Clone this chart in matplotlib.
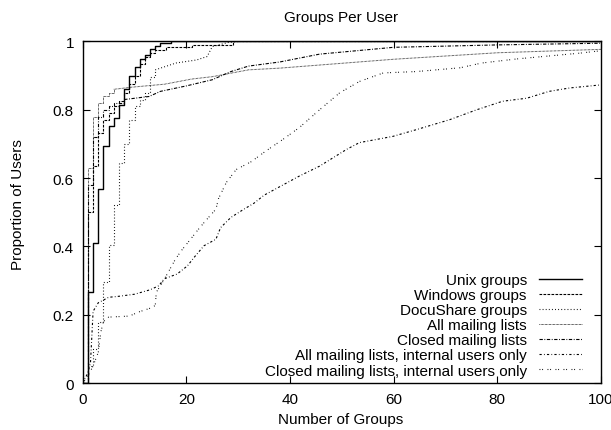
import matplotlib
matplotlib.use("Agg")
import matplotlib.pyplot as plt

plt.rcParams["font.family"] = ["Liberation Sans", "DejaVu Sans"]

# CDF of groups per user.
# Each series: x, y, and the index up to which it is drawn as steps
unix_x = [0, 1, 2, 3, 4, 5, 6, 7, 8, 9, 10, 11, 12, 13, 14, 15, 17, 100]
unix_y = [0, 0.267, 0.41, 0.567, 0.693, 0.752, 0.775, 0.815, 0.86, 0.90,
          0.925, 0.948, 0.959, 0.977, 0.988, 0.997, 1.0, 1.0]

win_x = [0, 1, 2, 3, 4, 5, 6, 7, 8, 9, 10, 11, 12, 13, 14, 16, 21, 29, 100]
win_y = [0, 0.50, 0.635, 0.732, 0.77, 0.79, 0.81, 0.825, 0.85, 0.875,
         0.90, 0.935, 0.955, 0.967, 0.976, 0.985, 0.99, 1.0, 1.0]

docu_x = [0, 1, 2, 3, 4, 5, 6, 7, 8, 9, 10, 11, 12, 13, 14,
          18, 22, 24, 25, 28, 30, 100]
docu_y = [0, 0.05, 0.10, 0.18, 0.296, 0.405, 0.52, 0.645, 0.70, 0.77, 0.81,
          0.83, 0.85, 0.897, 0.917, 0.937, 0.946, 0.956, 0.985, 0.997, 1.0, 1.0]

allml_x = [0, 1, 2, 3, 4, 5, 6, 9.3, 15.8, 21, 25, 32, 38, 60, 80, 100]
allml_y = [0, 0.63, 0.78, 0.82, 0.84, 0.85, 0.86, 0.866, 0.875, 0.89,
           0.897, 0.917, 0.922, 0.948, 0.967, 0.977]

closed_x = [0, 1, 2, 3, 4, 5, 6, 8, 12.8, 15, 20, 25, 28.6, 32, 38, 45.7,
            60, 80, 100]
closed_y = [0, 0.58, 0.72, 0.78, 0.80, 0.81, 0.82, 0.83, 0.839, 0.854, 0.87,
            0.888, 0.912, 0.928, 0.94, 0.963, 0.983, 0.99, 0.995]

allint_x = [0, 1, 1.5, 2, 3, 5, 7, 10, 13, 14.7, 15.7, 18.2, 20.2, 21.5,
            23.4, 25.7, 26.6, 28.6, 31.1, 33, 35, 41.8, 45.7, 50.9, 53.4,
            59.8, 64.4, 70.8, 76, 81, 85.7, 90, 94, 100]
allint_y = [0, 0.03, 0.06, 0.21, 0.235, 0.251, 0.254, 0.26, 0.273, 0.285,
            0.305, 0.319, 0.343, 0.368, 0.402, 0.421, 0.455, 0.485, 0.509,
            0.526, 0.55, 0.606, 0.635, 0.684, 0.704, 0.722, 0.742, 0.771,
            0.80, 0.825, 0.834, 0.854, 0.864, 0.873]

clint_x = [0, 1, 2, 3, 3.5, 4, 5, 9, 10.8, 13, 14, 14.2, 15, 16.3, 17.9, 19,
           20.8, 22.1, 23.7, 25.7, 26.2, 27.7, 29.6, 32.5, 35.4, 38.6, 41.8,
           45.7, 49.6, 53.4, 58, 64.4, 72.8, 77, 83.8, 96, 100]
clint_y = [0, 0.02, 0.05, 0.09, 0.15, 0.18, 0.193, 0.196, 0.208, 0.219,
           0.227, 0.266, 0.285, 0.319, 0.363, 0.387, 0.421, 0.446, 0.475,
           0.509, 0.54, 0.587, 0.625, 0.648, 0.68, 0.713, 0.748, 0.80, 0.85,
           0.883, 0.908, 0.912, 0.923, 0.937, 0.949, 0.966, 0.973]

SERIES = [
    ("Unix groups", unix_x, unix_y, 17, dict(ls="-", lw=1.0)),
    ("Windows groups", win_x, win_y, 18, dict(ls=(0, (2.4, 1.2)), lw=0.8)),
    ("DocuShare groups", docu_x, docu_y, 14, dict(ls=(0, (0.8, 2.0)), lw=0.8)),
    ("All mailing lists", allml_x, allml_y, 6, dict(ls=(0, (0.6, 0.8)), lw=0.7)),
    ("Closed mailing lists", closed_x, closed_y, 7,
     dict(ls=(0, (3.0, 1.4, 0.8, 1.4)), lw=0.8)),
    ("All mailing lists, internal users only", allint_x, allint_y, 0,
     dict(ls=(0, (2.0, 2.0, 0.7, 2.0)), lw=0.8)),
    ("Closed mailing lists, internal users only", clint_x, clint_y, 0,
     dict(ls=(0, (0.8, 1.6, 0.8, 4.0)), lw=0.8)),
]

FS = 11

fig = plt.figure(figsize=(6.11, 4.31), dpi=100)
ax = fig.add_axes([0.1354, 0.109, 0.8482, 0.7924])

handles = []
for name, xs, ys, n_step, style in SERIES:
    if n_step > 0:
        ax.plot(xs[:n_step + 1], ys[:n_step + 1], color="black",
                drawstyle="steps-post", **style)
        ax.plot(xs[n_step:], ys[n_step:], color="black", **style)
    else:
        ax.plot(xs, ys, color="black", **style)
    h, = ax.plot([], [], color="black", label=name, **style)
    handles.append(h)

ax.set_xlim(0, 100)
ax.set_ylim(0, 1)
ax.set_xticks([0, 20, 40, 60, 80, 100])
ax.set_yticks([0, 0.2, 0.4, 0.6, 0.8, 1])
ax.set_yticklabels(["0", "0.2", "0.4", "0.6", "0.8", "1"])
ax.tick_params(direction="in", top=True, right=True, length=5, width=0.8,
               labelsize=FS)
ax.tick_params(axis="x", pad=6.5)
ax.tick_params(axis="y", pad=6.3)
for sp in ax.spines.values():
    sp.set_linewidth(1.0)

fig.text(0.558, 1 - 18 / 431, "Groups Per User", ha="center", va="center",
         fontsize=FS)
fig.text(0.558, 1 - 420 / 431, "Number of Groups", ha="center", va="center",
         fontsize=FS)
fig.text(18 / 611, 1 - 205 / 431, "Proportion of Users", ha="center",
         va="center", rotation=90, fontsize=FS)

ax.legend(handles=handles, loc="lower right", bbox_to_anchor=(0.963, 0.016),
          frameon=False, markerfirst=False, fontsize=FS, handlelength=2.8,
          handletextpad=0.8, labelspacing=0.07, borderpad=0, borderaxespad=0)

fig.savefig("out.png", dpi=100)
